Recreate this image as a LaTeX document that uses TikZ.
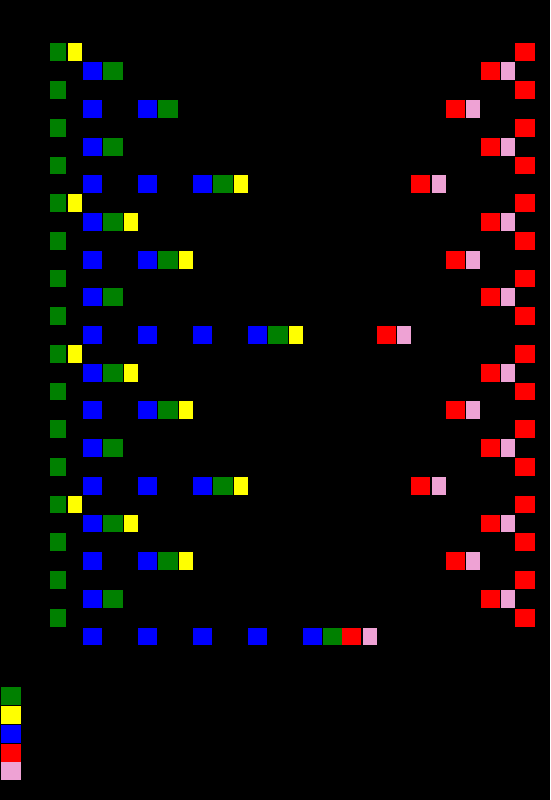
\documentclass[tikz,border=0pt]{standalone}
\usepackage{tikz}

\definecolor{cgreen}{RGB}{0,128,0}
\definecolor{cyellow}{RGB}{255,255,0}
\definecolor{cblue}{RGB}{0,0,255}
\definecolor{cred}{RGB}{255,0,0}
\definecolor{cpink}{RGB}{238,162,212}

\begin{document}
\begin{tikzpicture}[x=1pt,y=-1pt]
\tikzstyle{every node}=[shape=rectangle,inner sep=0pt,minimum height=17.8pt,anchor=north west];
\tikzstyle{greenbox}=[fill=cgreen,minimum width=20pt]
\tikzstyle{yellowbox}=[fill=cyellow,minimum width=14pt]
\tikzstyle{bluebox}=[fill=cblue,minimum width=19pt]
\tikzstyle{redbox}=[fill=cred,minimum width=19pt]
\tikzstyle{pinkbox}=[fill=cpink,minimum width=14pt]
\fill[black] (0,0) rectangle (550,800);
\useasboundingbox (0,0) rectangle (550,800);

% even rows
\foreach \m in {0,...,15} {
	\pgfmathsetmacro\rowy{43.3+37.68*\m}
	\node[greenbox,minimum width=16pt] (g\m) at (50,\rowy) {};
	\node[redbox,minimum width=20pt] (r\m) at (515,\rowy) {};
}
\foreach \m in {0,4,8,12}
	\node[yellowbox] (y\m) at ([xshift=1pt]g\m.north east) {};

% odd rows
\foreach \m/\n/\yel in {0/1/0,1/2/0,2/1/0,3/3/1,4/1/1,5/2/1,6/1/0,7/4/1,
	8/1/1,9/2/1,10/1/0,11/3/1,12/1/1,13/2/1,14/1/0,15/5/0} {
	\pgfmathsetmacro\rowy{43.3+18.84+37.68*\m}
	\foreach \j in {1,...,\n}
		\node[bluebox] (b\m-\j) at ({82.3+55*(\j-1)},\rowy) {};
	\node[greenbox] (bg\m) at ([xshift=1pt]b\m-\n.north east) {};
	\ifnum\yel=1
		\node[yellowbox] (by\m) at ([xshift=1pt]bg\m.north east) {};
	\fi
	\node[redbox] (br\m) at ({515-34.6*\n},\rowy) {};
	\node[pinkbox] (bp\m) at ([xshift=1pt]br\m.north east) {};
}

% legend
\node[greenbox,minimum height=18pt] (lgreen) at (1,687) {};
\node[yellowbox,minimum width=20pt,minimum height=18pt] (lyellow) at (1,706) {};
\node[bluebox,minimum width=20pt,minimum height=18pt] (lblue) at (1,725) {};
\node[redbox,minimum width=20pt,minimum height=17.5pt] (lred) at (1,744) {};
\node[pinkbox,minimum width=20pt,minimum height=18pt] (lpink) at (1,762) {};
\end{tikzpicture}
\end{document}
